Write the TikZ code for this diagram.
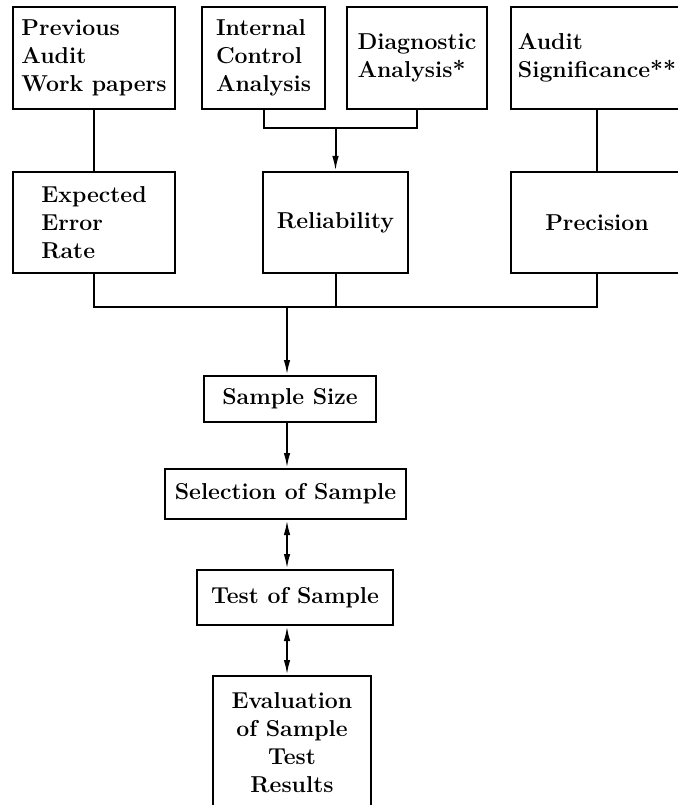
\documentclass[tikz,border=0pt]{standalone}
\usetikzlibrary{arrows.meta}
\begin{document}
\begin{tikzpicture}[x=1pt,y=-1pt,
  box/.style={draw, line width=2pt, inner sep=0pt, font=\bfseries\fontsize{23}{28}\selectfont},
  lbox/.style={box, align=left},
  cbox/.style={box, align=center},
  conn/.style={line width=2pt},
  arr/.style={conn, -{Latex[length=15pt,width=6.5pt]}},
  darr/.style={conn, {Latex[length=15pt,width=6.5pt]}-{Latex[length=15pt,width=6.5pt]}}]
\useasboundingbox (0,0) rectangle (677,805);
% top row
\node[lbox, minimum width=162pt, minimum height=102pt] (prev) at (94,58) {Previous\\Audit\\Work papers};
\node[lbox, minimum width=123pt, minimum height=102pt] (icon) at (263.5,58) {Internal\\Control\\Analysis};
\node[lbox, minimum width=140pt, minimum height=102pt] (diag) at (417,58) {Diagnostic\\Analysis*};
\node[lbox, minimum width=172pt, minimum height=102pt] (sig) at (597,58) {Audit\\Significance**};
% second row
\node[lbox, minimum width=162pt, minimum height=101pt] (exp) at (94,222.5) {Expected\\Error\\Rate};
\node[cbox, minimum width=145pt, minimum height=101pt] (rel) at (335.5,222.5) {Reliability};
\node[cbox, minimum width=172pt, minimum height=101pt] (prec) at (597,222.5) {Precision};
% bottom column
\node[cbox, minimum width=172pt, minimum height=46pt] (size) at (290,399) {Sample Size};
\node[cbox, minimum width=241pt, minimum height=50pt] (sel) at (285.5,494) {Selection of Sample};
\node[cbox, minimum width=196pt, minimum height=55pt] (test) at (295,597.5) {Test of Sample};
\node[cbox, minimum width=158pt, minimum height=134pt] (eval) at (292,743) {Evaluation\\of Sample\\Test\\Results};
% connectors
\coordinate (merge) at (335.5,128);
\coordinate (join) at (287,307);
\draw[conn] (prev.south) -- (exp.north);
\draw[conn] (icon.south) -- (icon.south |- merge) -- (diag.south |- merge) -- (diag.south);
\draw[arr] (merge) -- (rel.north);
\draw[conn] (sig.south) -- (prec.north);
\draw[conn] (exp.south) -- (exp.south |- join) -- (prec.south |- join) -- (prec.south);
\draw[conn] (rel.south) -- (rel.south |- join);
\draw[arr] (join) -- (size.north -| join);
\draw[arr] (size.south -| join) -- (sel.north -| join);
\draw[darr] (sel.south -| join) -- (test.north -| join);
\draw[darr] (test.south -| join) -- (eval.north -| join);
\end{tikzpicture}
\end{document}
